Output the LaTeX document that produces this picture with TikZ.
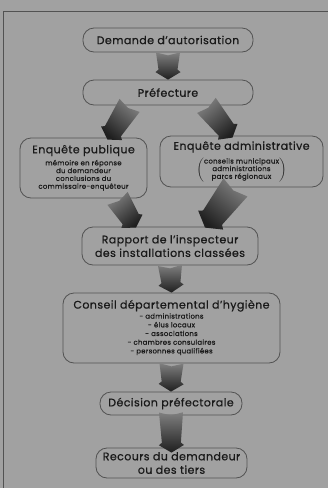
\documentclass[tikz,border=0pt]{standalone}
\usepackage{fontspec}
\setmainfont{Poppins}[LetterSpace=4,FakeBold=0.7]
\usetikzlibrary{calc,positioning}
\definecolor{fond}{gray}{0.63}
\definecolor{trait}{gray}{0.32}
\definecolor{encre}{gray}{0.1}
\newcommand\sous[2][7.8]{{\fontsize{6.9}{#1}\selectfont\begin{tabular}[t]{@{}c@{}}#2\end{tabular}}}
\newcommand\entre[1]{$\left(\vcenter{\hbox{\fontsize{6.9}{7.6}\selectfont\begin{tabular}{@{}c@{}}#1\end{tabular}}}\right)$}
\newcommand\largfl{1}
\begin{document}
\begin{tikzpicture}[x=1pt,y=-1pt]
  \tikzstyle{box}=[draw=trait,line width=0.8pt,rounded corners=11pt,align=center,inner sep=1pt,text=encre,font=\fontsize{11}{13.5}\selectfont]
  \tikzstyle{fleche}=[top color=black!50,bottom color=black!88,to path={
    ($(\tikztostart)!{12pt*\largfl}!90:(\tikztotarget)$) -- ($(\tikztostart)!{3pt*\largfl}!(\tikztotarget)$)
    -- ($(\tikztostart)!{12pt*\largfl}!-90:(\tikztotarget)$)
    -- ($(\tikztotarget)!{10pt*\largfl}!(\tikztostart)!{9.5pt*\largfl}!-90:(\tikztotarget)$)
    -- ($(\tikztotarget)!{7.5pt*\largfl}!(\tikztostart)!{12.5pt*\largfl}!-90:(\tikztotarget)$)
    -- (\tikztotarget)
    -- ($(\tikztotarget)!{7.5pt*\largfl}!(\tikztostart)!{12.5pt*\largfl}!90:(\tikztotarget)$)
    -- ($(\tikztotarget)!{10pt*\largfl}!(\tikztostart)!{9.5pt*\largfl}!90:(\tikztotarget)$)
    -- cycle}]
  \tikzset{larg/.code={\renewcommand\largfl{#1}}}
  % fond et cadre
  \fill[fond] (0,0) rectangle (328,488);
  \useasboundingbox (0,0) rectangle (328,488);
  \draw[trait,line width=0.9pt] (3,488) -- (3,11) -- (328,11);
  % etapes
  \node[box,minimum width=170pt,minimum height=24pt] (dem) at (168,40) {Demande d'autorisation};
  \node[box,minimum width=170pt,minimum height=25pt] (pref) at (168,92.5) {Préfecture};
  \node[box,minimum width=127pt,minimum height=60pt] (pub) at (83.5,168)
    {Enquête publique\\[-1.5pt]\sous{mémoire en réponse\\du demandeur\\conclusions du\\commissaire-enquêteur}};
  \node[box,minimum width=163pt,minimum height=51pt] (adm) at (241.5,161.5)
    {Enquête administrative\\[4pt]\entre{conseils municipaux\\administrations\\parcs régionaux}};
  \node[box,minimum width=176pt,minimum height=38pt] (rap) at (170,246)
    {Rapport de l'inspecteur\\des installations classées};
  \node[box,minimum width=217pt,minimum height=70pt] (cons) at (171.5,328)
    {Conseil départemental d'hygiène\\[-3.5pt]\sous[8.7]{- administrations\\- élus locaux\\- associations\\- chambres consulaires\\- personnes qualifiées}};
  \node[box,minimum width=142pt,minimum height=23pt] (dec) at (171,403.5) {Décision préfectorale};
  \node[box,minimum width=151pt,minimum height=30pt] (rec) at (171.5,463)
    {Recours du demandeur\\ou des tiers};
  % fleches
  \path[fleche] (dem.south) to (pref.north);
  \path[fleche,shading angle=-40] ([xshift=47pt]pref.south west) to ([xshift=24pt,yshift=-2pt]pub.north);
  \path[fleche,shading angle=40] ([xshift=-47pt]pref.south east) to ([xshift=-9pt,yshift=-2pt]adm.north);
  \path[fleche,shading angle=40] ([xshift=34pt]pub.south) to ([xshift=-34pt,yshift=-1pt]rap.north);
  \path[fleche,larg=1.25,shading angle=-40] ([xshift=-6pt]adm.south) to ([xshift=35pt,yshift=-1pt]rap.north);
  \path[fleche] (rap.south) to (cons.north);
  \path[fleche] (cons.south) to (dec.north);
  \path[fleche] ([yshift=3pt]dec.south) to ([yshift=-5pt]rec.north);
\end{tikzpicture}
\end{document}
